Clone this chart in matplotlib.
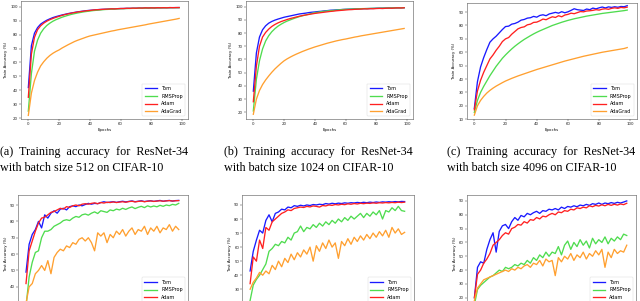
import numpy as np
import matplotlib.pyplot as plt
from matplotlib.ticker import MultipleLocator

# epochs sampled every 2 (0..98)
epochs = np.arange(0, 100, 2)

labels = ['Tom', 'RMSProp', 'Adam', 'AdaGrad']
colors = ['#1a1aff', '#4fdc4f', '#ff2020', '#ffa030']

# ---- training accuracy, batch 512 ----
tom_a = [42, 72, 81, 85, 87.5, 89, 90.3, 91.3, 92.2, 92.9,
         93.5, 94.1, 94.6, 95.1, 95.5, 95.9, 96.3, 96.6, 96.9, 97.2,
         97.4, 97.6, 97.8, 98.0, 98.1, 98.2, 98.3, 98.4, 98.5, 98.6,
         98.7, 98.75, 98.8, 98.85, 98.9, 98.95, 99.0, 99.05, 99.1, 99.1,
         99.15, 99.2, 99.2, 99.25, 99.25, 99.3, 99.3, 99.35, 99.35, 99.4]
rms_a = [25, 52, 68, 76, 81, 84.2, 86.5, 88.2, 89.6, 90.7,
         91.6, 92.5, 93.2, 93.9, 94.5, 95.0, 95.5, 95.9, 96.3, 96.6,
         96.9, 97.2, 97.4, 97.6, 97.8, 98.0, 98.1, 98.2, 98.35, 98.45,
         98.55, 98.6, 98.7, 98.75, 98.8, 98.85, 98.9, 98.95, 99.0, 99.05,
         99.1, 99.1, 99.15, 99.2, 99.2, 99.25, 99.25, 99.3, 99.3, 99.3]
adam_a = [35, 66, 78, 83.5, 86.3, 88.2, 89.6, 90.7, 91.6, 92.4,
          93.1, 93.8, 94.4, 94.9, 95.4, 95.8, 96.2, 96.5, 96.8, 97.1,
          97.3, 97.6, 97.8, 97.9, 98.1, 98.2, 98.3, 98.5, 98.4, 98.6,
          98.7, 98.7, 98.9, 98.8, 99.0, 98.9, 99.1, 99.0, 99.2, 99.1,
          99.2, 99.1, 99.3, 99.2, 99.3, 99.2, 99.4, 99.3, 99.4, 99.4]
ada_a = [22, 38, 47, 53, 57.5, 60.5, 63, 65, 66.6, 67.9,
         69, 70.4, 71.6, 72.8, 73.9, 75, 75.9, 76.7, 77.5, 78.3,
         79, 79.5, 80, 80.5, 81, 81.5, 82, 82.5, 82.9, 83.4,
         83.8, 84.2, 84.6, 85.0, 85.4, 85.8, 86.2, 86.6, 87.0, 87.5,
         87.9, 88.3, 88.7, 89.1, 89.5, 89.9, 90.3, 90.7, 91.1, 91.6]

# ---- training accuracy, batch 1024 ----
tom_b = [36, 65, 77, 82.5, 85.5, 87.5, 88.8, 89.8, 90.6, 91.3,
         92, 92.5, 93, 93.5, 94, 94.5, 94.8, 95.1, 95.5, 95.8,
         96, 96.3, 96.5, 96.8, 97, 97.3, 97.4, 97.6, 97.7, 97.9,
         98, 98.1, 98.2, 98.3, 98.35, 98.4, 98.5, 98.55, 98.6, 98.7,
         98.8, 98.85, 98.9, 98.95, 99.0, 99.05, 99.1, 99.1, 99.15, 99.2]
rms_b = [21, 45, 59, 68, 74, 78, 81, 83.3, 85.2, 86.7,
         88, 89.1, 90, 90.9, 91.7, 92.5, 93.1, 93.7, 94.3, 94.9,
         95.4, 95.8, 96.2, 96.5, 96.8, 97, 97.2, 97.4, 97.6, 97.8,
         98, 98.1, 98.2, 98.3, 98.4, 98.5, 98.55, 98.6, 98.7, 98.75,
         98.8, 98.85, 98.9, 98.95, 99, 99.05, 99.1, 99.1, 99.15, 99.2]
adam_b = [28, 55, 70, 77, 80.5, 83, 85, 86.5, 87.7, 88.7,
          89.5, 90.3, 91, 91.6, 92.2, 92.8, 93.3, 93.7, 94.1, 94.5,
          94.9, 95.2, 95.5, 95.8, 96.1, 96.4, 96.6, 96.9, 97.1, 97.3,
          97.5, 97.7, 97.8, 98, 98.1, 98.2, 98.4, 98.3, 98.5, 98.4,
          98.6, 98.7, 98.6, 98.8, 98.9, 98.8, 99, 99.1, 99, 99.2]
ada_b = [18.5, 30, 36.5, 41, 44.5, 47.5, 50.3, 52.8, 55, 57.1,
         59, 60.5, 61.8, 63, 64.1, 65.1, 66.1, 67, 67.9, 68.7,
         69.5, 70.2, 70.9, 71.6, 72.3, 72.9, 73.5, 74.1, 74.6, 75.1,
         75.5, 76, 76.5, 77, 77.4, 77.9, 78.3, 78.7, 79.1, 79.5,
         79.9, 80.3, 80.7, 81.1, 81.5, 81.9, 82.3, 82.7, 83.1, 83.5]

# ---- training accuracy, batch 4096 ----
tom_c = [18, 38, 49, 56, 62, 67.5, 70, 72, 74.5, 77,
         79.2, 79.5, 81, 81.5, 82.5, 84, 84.5, 85.5, 85.8, 86.8,
         86.2, 87.5, 88, 87.3, 88.6, 89.2, 89.8, 89.2, 90.3, 89.5,
         90.2, 91.3, 92.5, 91.8, 91.5, 91.2, 92.3, 91.8, 93, 92.4,
         93.2, 93.8, 93.1, 93.9, 93.5, 94, 93.6, 94.2, 94, 94.8]
rms_c = [15, 24, 30, 34.5, 38.5, 42.5, 46, 49.5, 52.5, 55.5,
         58, 60.3, 62.5, 64.5, 66.3, 68, 69.6, 71, 72.4, 73.7,
         74.9, 76, 77, 78, 79, 80, 80.8, 81.6, 82.4, 83.1,
         83.8, 84.4, 85, 85.5, 86, 86.5, 87, 87.4, 87.8, 88.2,
         88.6, 89, 89.3, 89.6, 89.9, 90.2, 90.5, 90.8, 91.1, 91.5]
adam_c = [17, 31, 39, 45, 50, 55, 58, 61.5, 64.5, 68,
          70, 71, 73.5, 75.5, 77.5, 78.5, 79, 80.5, 81, 82.3,
          82.5, 83.5, 84.8, 84.3, 85.5, 86.5, 86, 87.3, 86.5, 87.8,
          88.3, 89.2, 88.8, 89.6, 90.4, 90.2, 90.8, 91, 91.3, 91.8,
          91.5, 92.2, 92.5, 92.1, 92.8, 93.2, 92.8, 93.5, 93.2, 93.7]
ada_c = [13, 20, 24, 27, 29.5, 31.5, 33.2, 34.7, 36, 37.3,
         38.5, 39.5, 40.5, 41.4, 42.3, 43.1, 43.9, 44.7, 45.5, 46.3,
         47.1, 47.8, 48.5, 49.2, 49.9, 50.6, 51.3, 52, 52.7, 53.4,
         54, 54.6, 55.2, 55.8, 56.4, 57, 57.5, 58, 58.5, 59,
         59.5, 60, 60.4, 60.8, 61.2, 61.6, 62, 62.4, 62.8, 63.5]

# ---- test accuracy, batch 512 ----
tom_ta = [49, 66, 72, 75, 80, 76, 84, 82, 85, 86.5,
          85, 87.5, 88, 87, 89, 89.5, 89, 90, 89.5, 90.3,
          91, 90.5, 91, 90.8, 91.5, 92, 91.5, 91.8, 92, 91.6,
          92, 92.3, 91.9, 92.2, 92.5, 92, 92.3, 92.6, 92.1, 92.4,
          92.6, 92.2, 92.5, 92.8, 92.3, 92.6, 92.8, 92.4, 92.7, 92.8]
rms_ta = [28, 46, 55, 61, 62, 70, 74, 74, 75, 77,
          78, 79, 80.5, 81, 80.5, 82, 83, 82.5, 84, 84.5,
          83.8, 85, 85.8, 84.8, 86.5, 86, 85.5, 87, 86.5, 87.5,
          87, 88, 87.3, 88.2, 88.8, 87.8, 88.6, 89.2, 88.4, 89.5,
          88.8, 89.4, 88.9, 89.8, 89.2, 90, 89.6, 90.4, 90, 91]
adam_ta = [42, 62, 68, 74, 79, 82, 82.5, 84, 85.5, 86,
           87, 88, 87.5, 89, 88.5, 89.5, 90, 89.5, 90.5, 90.8,
           90.5, 91, 91.3, 90.8, 91.5, 91.2, 91.7, 91.5, 91.9, 91.5,
           91.8, 92, 91.7, 92.1, 92.3, 91.9, 92.2, 92.4, 92, 92.3,
           92.5, 92.2, 92.4, 92.6, 92.3, 92.5, 92.7, 92.4, 92.6, 92.7]
ada_ta = [30, 40, 42, 48, 50, 53, 50, 56, 48, 58,
          61, 63, 62, 65, 64, 67, 66, 69, 70, 68,
          70, 67, 62, 73, 71, 73, 67, 72, 70, 74,
          72, 75, 71, 74, 76, 72, 75, 74, 77, 72,
          76, 74, 77, 73, 76, 75, 78, 74, 77, 75]

# ---- test accuracy, batch 1024 ----
tom_tb = [43, 57, 65, 72, 70, 79, 83, 78, 84, 85,
          87, 86.5, 88.5, 88, 89.5, 89, 89.8, 89.3, 90, 89.6,
          90.3, 90, 90.5, 90.2, 91, 90.6, 91.2, 90.8, 91.3, 91,
          91.5, 91.2, 91.6, 91.4, 91.8, 91.5, 91.9, 91.6, 92, 91.7,
          92.1, 91.8, 92.2, 92, 92.3, 92.1, 92.4, 92.2, 92.5, 92.4]
rms_tb = [22, 33, 37, 40, 44, 48, 57, 59, 62, 61,
          64, 63, 67, 65, 70, 71, 75, 71, 74, 73,
          76, 74, 77, 75, 78, 76, 79, 77, 80, 78,
          81, 79, 82, 80, 82, 84, 81, 84, 82, 85,
          83, 86, 80, 86, 85, 88, 86, 89, 86, 85.5]
adam_tb = [34, 53, 50, 65, 59, 74, 72, 78, 80, 82,
           84, 85, 86.5, 86, 87.5, 88, 88.5, 88.2, 89, 88.6,
           89.3, 89, 88.5, 89.6, 89.3, 90, 89.7, 90.3, 90, 90.5,
           90.2, 90.8, 90.5, 91, 90.7, 91.2, 90.9, 91.3, 91.1, 91.5,
           91.2, 91.6, 91.4, 91.7, 91.5, 91.8, 91.6, 92, 91.7, 92]
ada_tb = [30, 35, 38, 42, 40, 43, 41, 47, 44, 50,
          46, 52, 49, 55, 51, 56, 53, 58, 55, 60,
          50, 61, 57, 63, 59, 65, 60, 63, 52, 64,
          61, 66, 62, 67, 64, 68, 65, 69, 66, 70,
          67, 71, 68, 72, 67, 74, 70, 73, 69, 70.5]

# ---- test accuracy, batch 4096 ----
tom_tc = [20, 42, 46, 45, 55, 62, 67, 53, 68, 72,
          73, 70, 75, 78, 76, 79.5, 78.5, 81, 80, 81.5,
          82.5, 81, 83, 82.5, 84, 83.5, 84.5, 83.5, 85.5, 84.5,
          86, 85.5, 86.5, 85.8, 87, 86.5, 87.5, 86.8, 88, 87.5,
          88.5, 87.5, 88.5, 88, 88.8, 88.2, 89, 88.5, 89.2, 90]
rms_tc = [15, 26, 29, 31, 33, 35, 36, 38, 40, 39,
          42, 41, 42, 44, 43, 45, 44, 47, 45, 49,
          47, 51, 49, 53, 50, 53, 52, 57, 51, 58,
          61, 55, 60, 57, 62, 58, 61, 56, 63, 59,
          62, 60, 64, 59, 63, 61, 64, 62, 66, 65]
adam_tc = [20, 37, 40, 45, 48, 52, 58, 60, 62, 65,
           67, 66, 70, 71, 73, 72.5, 75, 74, 76.5, 76,
           78, 77, 79, 78.5, 80, 81, 80, 82, 81.5, 83,
           82.5, 84, 83.5, 85, 84.5, 85.5, 85, 86.5, 85.8, 86.8,
           86.3, 87.2, 86.5, 87.5, 86.8, 87.6, 87, 87.8, 87.3, 88.3]
ada_tc = [18, 27, 30, 33, 34, 35, 36, 37, 38, 39,
          40, 39, 41, 40, 42, 41, 43, 44, 42, 45,
          44, 47, 43, 48, 46, 47, 36, 49, 46, 50,
          48, 52, 47, 51, 49, 53, 48, 52, 50, 54,
          51, 55, 42, 53, 49, 55, 52, 54, 53, 58]

W, H = 640, 301


def px_rect(left, top, right, bottom):
    """Pixel box -> figure fraction rect."""
    return [left / W, (H - bottom) / H, (right - left) / W, (bottom - top) / H]


def draw_panel(fig, rect, series, ylabel, ylim, show_x=True):
    ax = fig.add_axes(rect)
    for vals, lab, col in zip(series, labels, colors):
        ax.plot(epochs, vals, color=col, lw=0.95, label=lab)
    ax.set_xlim(-4.95, 103.95)
    ax.set_ylim(*ylim)
    ax.xaxis.set_major_locator(MultipleLocator(20))
    ax.yaxis.set_major_locator(MultipleLocator(10))
    ax.tick_params(labelsize=2.8, length=1.2, width=0.3, pad=1, colors='#222222')
    ax.set_ylabel(ylabel, fontsize=2.8, labelpad=1.5)
    if show_x:
        ax.set_xlabel('Epochs', fontsize=2.8, labelpad=1)
    else:
        # x tick labels of the lower row fall below the page
        ax.tick_params(labelbottom=False)
    for sp in ax.spines.values():
        sp.set_linewidth(0.4)
        sp.set_color('#555555')
    leg = ax.legend(loc='lower right', fontsize=3.5, handlelength=2.6,
                    borderpad=0.5, labelspacing=0.55, handletextpad=0.8,
                    borderaxespad=0.6, fancybox=True)
    leg.get_frame().set_linewidth(0.3)
    return ax


fig = plt.figure(figsize=(W / 100, H / 100), dpi=100)

# top row: training accuracy
draw_panel(fig, px_rect(20.7, 1, 188.3, 119.3), [tom_a, rms_a, adam_a, ada_a],
           'Train Accuracy (%)', (19.2, 104.1))
draw_panel(fig, px_rect(245.7, 1, 413.3, 119.3), [tom_b, rms_b, adam_b, ada_b],
           'Train Accuracy (%)', (14.7, 104.3))
draw_panel(fig, px_rect(466.6, 3, 636.5, 119.3), [tom_c, rms_c, adam_c, ada_c],
           'Train Accuracy (%)', (9.9, 96.8))

# bottom row: test accuracy (cut off by the page)
draw_panel(fig, px_rect(18.3, 194.7, 188, 313), [tom_ta, rms_ta, adam_ta, ada_ta],
           'Test Accuracy (%)', (24, 96.3), show_x=False)
draw_panel(fig, px_rect(242.3, 194.7, 414, 313), [tom_tb, rms_tb, adam_tb, ada_tb],
           'Test Accuracy (%)', (13.1, 97.3), show_x=False)
draw_panel(fig, px_rect(466.7, 194.7, 636, 313), [tom_tc, rms_tc, adam_tc, ada_tc],
           'Test Accuracy (%)', (9, 94.5), show_x=False)

# captions
captions = [('(a)', '512'), ('(b)', '1024'), ('(c)', '4096')]
cap_x = [0, 224, 447]
for (tag, bs), x0 in zip(captions, cap_x):
    fig.text(x0 / W, 1 - 152 / H, tag + '  Training  accuracy  for  ResNet-34',
             fontsize=8.7, family='Liberation Serif', va='center', ha='left')
    fig.text(x0 / W, 1 - 168 / H, 'with batch size ' + bs + ' on CIFAR-10',
             fontsize=8.7, family='Liberation Serif', va='center', ha='left')

fig.savefig('out.png', dpi=100)
